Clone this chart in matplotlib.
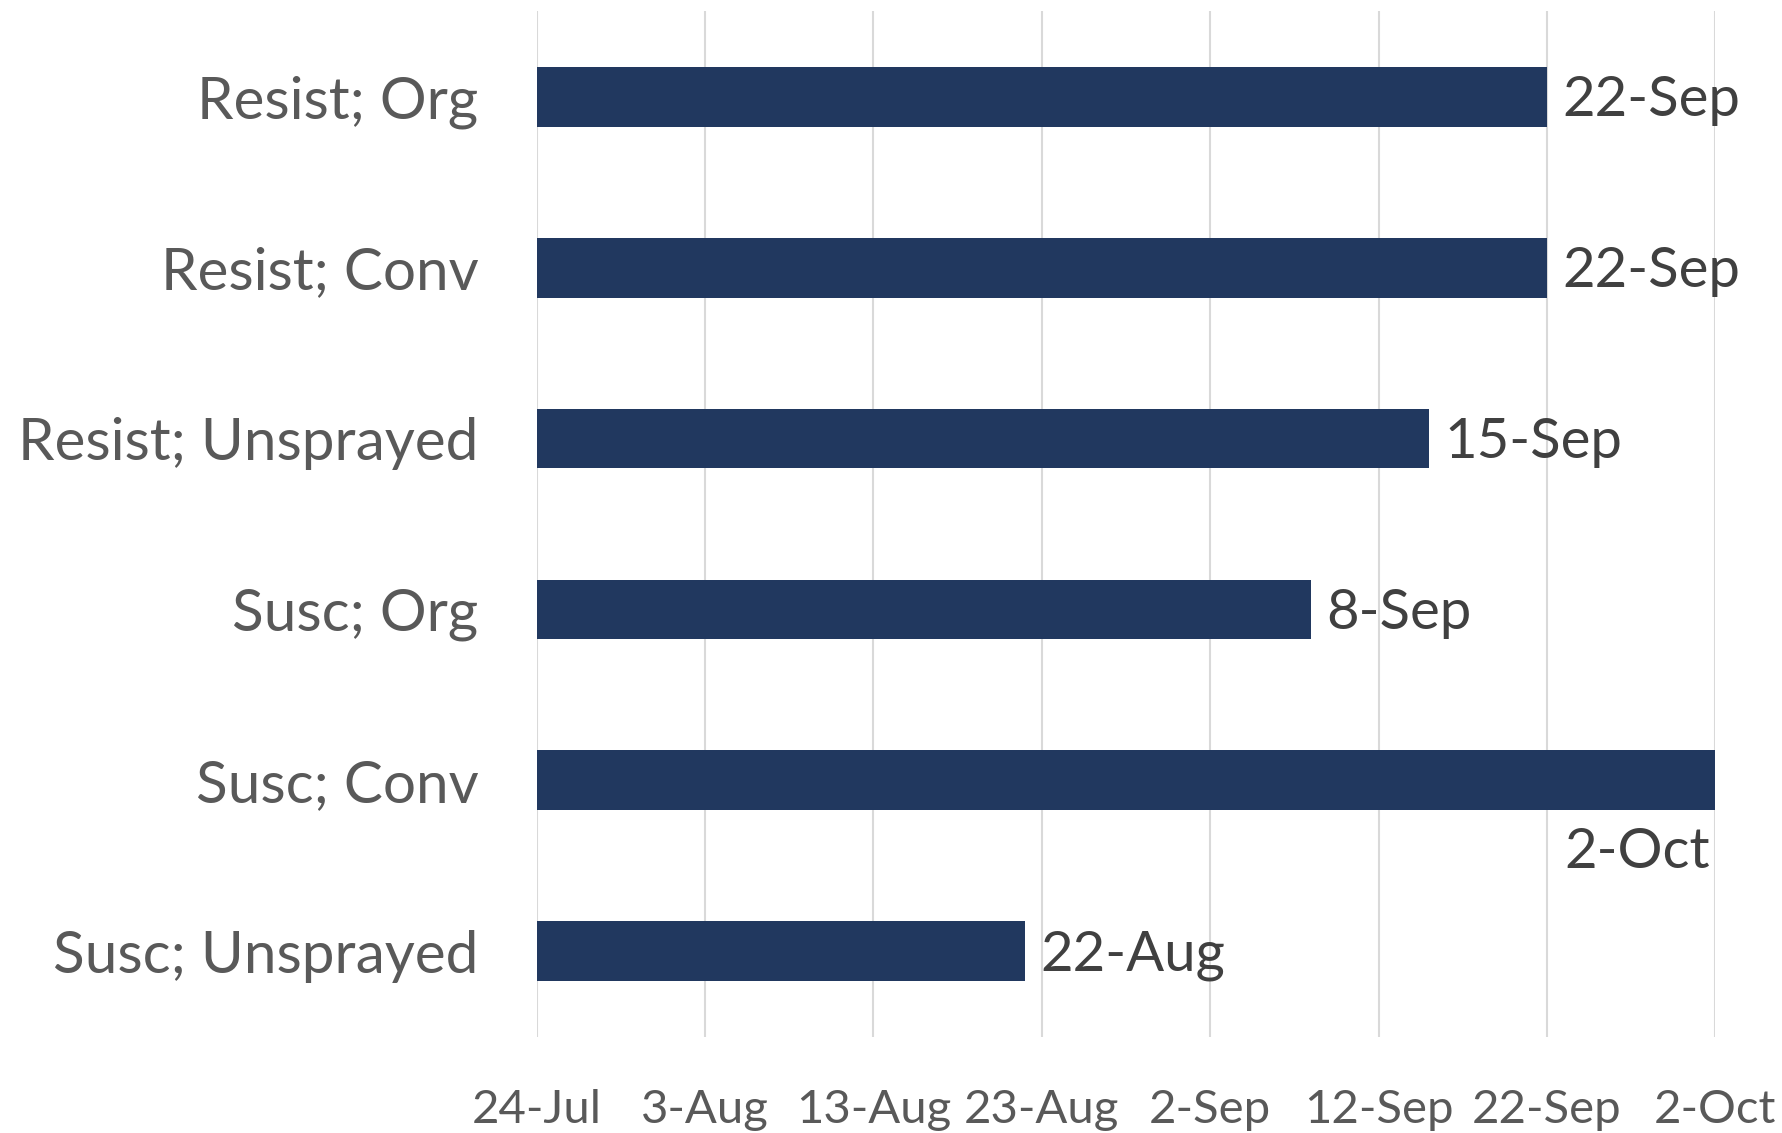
import datetime as dt

import matplotlib

matplotlib.use("Agg")
import matplotlib.dates as mdates
import matplotlib.pyplot as plt
import matplotlib.ticker as mticker

plt.rcParams["font.family"] = ["Lato", "DejaVu Sans"]

categories = [
    "Resist; Org",
    "Resist; Conv",
    "Resist; Unsprayed",
    "Susc; Org",
    "Susc; Conv",
    "Susc; Unsprayed",
]
end_dates = ["2019-09-22", "2019-09-22", "2019-09-15", "2019-09-08", "2019-10-02", "2019-08-22"]
axis_start = "2019-07-24"
axis_end = "2019-10-02"
tick_step_days = 10

BAR_COLOR = "#21385f"
GRID_COLOR = "#d9d9d9"


def to_num(s):
    return mdates.date2num(dt.datetime.strptime(s, "%Y-%m-%d"))


def day_month(x, pos=None):
    d = mdates.num2date(x)
    return f"{d.day}-{d.strftime('%b')}"


start = to_num(axis_start)
stop = to_num(axis_end)
ends = [to_num(s) for s in end_dates]
ys = list(range(len(categories)))
ticks = [start + i * tick_step_days for i in range(int((stop - start) // tick_step_days) + 1)]

fig = plt.figure(figsize=(17.83, 11.33), dpi=100)
ax = fig.add_axes([0.301, 0.085, 0.661, 0.905])

ax.barh(ys, [e - start for e in ends], left=start, height=0.35, color=BAR_COLOR, zorder=3)

for y, e in zip(ys, ends):
    label = day_month(e)
    if e >= stop:
        # no room on the right: Excel drops it under the bar
        ax.annotate(label, (e, y), xytext=(-4, -52), textcoords="offset points",
                    ha="right", va="center", fontsize=40.5, color="#404040")
    else:
        ax.annotate(label, (e, y), xytext=(11, -3), textcoords="offset points",
                    ha="left", va="center", fontsize=40.5, color="#404040")

ax.set_xlim(start, stop)
ax.set_ylim(len(categories) - 0.5, -0.5)
ax.set_yticks(ys)
ax.set_yticklabels(categories, fontsize=42, color="#595959")
ax.xaxis.set_major_locator(mticker.FixedLocator(ticks))
ax.xaxis.set_major_formatter(mticker.FuncFormatter(day_month))
ax.tick_params(axis="x", length=0, pad=38, labelsize=34, labelcolor="#595959")
ax.tick_params(axis="y", length=0, pad=42)
ax.grid(axis="x", color=GRID_COLOR, linewidth=1.5, zorder=0)
for side in ax.spines.values():
    side.set_visible(False)

fig.savefig("out.png", dpi=100)
